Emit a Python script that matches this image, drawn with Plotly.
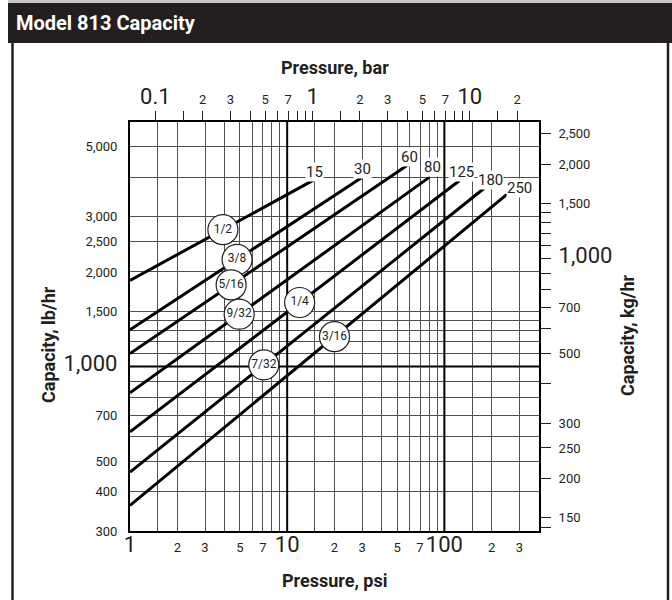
import numpy as np
import plotly.graph_objects as go

# ---------------- data ----------------
orifice_sizes = ["1/2", "3/8", "5/16", "9/32", "1/4", "7/32", "3/16"]
max_pressure_psi = [15, 30, 60, 80, 125, 180, 250]        # line end / label
start_pressure_psi = [1, 1, 1, 1, 1, 1, 1]
capacity_at_start = [1880, 1310, 1100, 825, 620, 462, 362]   # lb/hr
capacity_at_max = [3940, 4000, 4420, 4000, 3910, 3700, 3530]  # lb/hr
size_label_psi = [3.9, 4.8, 4.4, 4.95, 12, 7.1, 20]       # where the circled size sits

psi_grid = [1, 1.5, 2, 3, 4, 5, 6, 7, 8, 9, 10, 15, 20, 30, 40, 50, 60, 70, 80, 90,
            100, 150, 200, 300]
psi_text = ["1", "", "2", "3", "", "5", "", "7", "", "", "10", "", "2", "3", "", "5", "",
            "7", "", "", "100", "", "2", "3"]
psi_big = [1, 10, 100]

bar_ticks = [0.1, 0.15, 0.2, 0.3, 0.4, 0.5, 0.6, 0.7, 0.8, 0.9, 1, 1.5, 2, 3, 4, 5, 6, 7,
             8, 9, 10, 15, 20]
bar_text = ["0.1", "", "2", "3", "", "5", "", "7", "", "", "1", "", "2", "3", "", "5", "",
            "7", "", "", "10", "", "2"]
bar_big = [0.1, 1, 10]

lb_grid = [300, 400, 500, 600, 700, 800, 900, 1000, 1100, 1200, 1300, 1400, 1500, 2000,
           2500, 3000, 4000, 5000, 6000]
lb_text = ["300", "400", "500", "", "700", "", "", "1,000", "", "", "", "", "1,500",
           "2,000", "2,500", "3,000", "", "5,000", ""]
lb_big = [1000]

kg_ticks = [140, 150, 200, 250, 300, 400, 500, 600, 700, 800, 900, 1000, 1100, 1200,
            1300, 1400, 1500, 2000, 2500]
kg_text = ["", "150", "200", "250", "300", "", "500", "", "700", "", "", "1,000", "", "",
           "", "", "1,500", "2,000", "2,500"]
kg_big = [1000]

PSI_RANGE = [1, 400]
LB_RANGE = [300, 6000]
LB_PER_KG = 2.20462
PSI_PER_BAR = 14.5038

# ---------------- styling ----------------
FONT = "Roboto, Liberation Sans, sans-serif"
INK = "#231f20"
GRID = "#505050"
SMALL = 13
BIG = 22

def big(txt):
    return '<span style="font-size:%dpx">%s</span>' % (BIG, txt)

def labels(vals, texts, bigs):
    return [big(t) if v in bigs else t for v, t in zip(vals, texts)]

fig = go.Figure()

# emphasised decade lines
for v in [10, 100]:
    fig.add_trace(go.Scatter(x=[v, v], y=LB_RANGE, mode="lines",
                             line=dict(color="black", width=2), hoverinfo="skip"))
fig.add_trace(go.Scatter(x=PSI_RANGE, y=[1000, 1000], mode="lines",
                         line=dict(color="black", width=2), hoverinfo="skip"))

# capacity lines
for i in range(len(orifice_sizes)):
    fig.add_trace(go.Scatter(
        x=[start_pressure_psi[i], max_pressure_psi[i]],
        y=[capacity_at_start[i], capacity_at_max[i]],
        mode="lines", line=dict(color="black", width=3), hoverinfo="skip"))

# circled orifice sizes, located on their lines
def on_line(i, p):
    lp0, lp1 = np.log10(start_pressure_psi[i]), np.log10(max_pressure_psi[i])
    lc0, lc1 = np.log10(capacity_at_start[i]), np.log10(capacity_at_max[i])
    t = (np.log10(p) - lp0) / (lp1 - lp0)
    return 10 ** (lc0 + t * (lc1 - lc0))

circ_y = [on_line(i, p) for i, p in enumerate(size_label_psi)]
fig.add_trace(go.Scatter(
    x=size_label_psi, y=circ_y, mode="markers+text", text=orifice_sizes,
    textposition="middle center",
    textfont=dict(family=FONT, size=12, color=INK),
    marker=dict(size=30, color="white", line=dict(color=INK, width=1.2)),
    hoverinfo="skip"))

# invisible traces to activate secondary axes
fig.add_trace(go.Scatter(x=[PSI_RANGE[0] / PSI_PER_BAR, PSI_RANGE[1] / PSI_PER_BAR],
                         y=LB_RANGE, xaxis="x2", yaxis="y", mode="markers",
                         marker=dict(opacity=0), hoverinfo="skip"))
fig.add_trace(go.Scatter(x=PSI_RANGE, y=[LB_RANGE[0] / LB_PER_KG, LB_RANGE[1] / LB_PER_KG],
                         xaxis="x", yaxis="y2", mode="markers",
                         marker=dict(opacity=0), hoverinfo="skip"))

# pressure labels at the ends of the lines
end_shift = [(0, 7), (0, 8), (0, 7), (3, 10), (2, 8), (6, 8), (13, 6)]
for i in range(len(orifice_sizes)):
    fig.add_annotation(
        x=np.log10(max_pressure_psi[i]), y=np.log10(capacity_at_max[i]),
        xref="x", yref="y", text=str(max_pressure_psi[i]), showarrow=False,
        xshift=end_shift[i][0], yshift=end_shift[i][1], xanchor="center",
        yanchor="middle", bgcolor="white", borderpad=0,
        font=dict(family=FONT, size=15, color=INK))

tick_font = dict(family=FONT, size=SMALL, color=INK)

fig.update_layout(
    width=672, height=600,
    margin=dict(l=130, r=133, t=122, b=69, autoexpand=False),
    paper_bgcolor="white", plot_bgcolor="white",
    showlegend=False,
    xaxis=dict(type="log", range=[np.log10(PSI_RANGE[0]), np.log10(PSI_RANGE[1])],
               tickmode="array", tickvals=psi_grid,
               ticktext=labels(psi_grid, psi_text, psi_big), tickangle=0,
               showgrid=True, gridcolor=GRID, gridwidth=1.2, automargin=False,
               showline=True, linecolor="black", linewidth=2, mirror=True,
               ticks="", tickfont=tick_font, ticklabelstandoff=3, zeroline=False),
    xaxis2=dict(type="log", overlaying="x", side="top", anchor="y",
                range=[np.log10(PSI_RANGE[0] / PSI_PER_BAR),
                       np.log10(PSI_RANGE[1] / PSI_PER_BAR)],
                tickmode="array", tickvals=bar_ticks, tickangle=0, automargin=False,
                ticktext=labels(bar_ticks, bar_text, bar_big),
                showgrid=False, showline=False, ticks="outside", ticklen=10,
                tickwidth=1.2, tickcolor=INK, tickfont=tick_font, ticklabelstandoff=2),
    yaxis=dict(type="log", range=[np.log10(LB_RANGE[0]), np.log10(LB_RANGE[1])],
               tickmode="array", tickvals=lb_grid, automargin=False,
               ticktext=labels(lb_grid, lb_text, lb_big),
               showgrid=True, gridcolor=GRID, gridwidth=1.2,
               showline=True, linecolor="black", linewidth=2, mirror=True,
               ticks="", tickfont=tick_font, ticklabelstandoff=8, zeroline=False),
    yaxis2=dict(type="log", overlaying="y", side="right", anchor="x", automargin=False,
                range=[np.log10(LB_RANGE[0] / LB_PER_KG), np.log10(LB_RANGE[1] / LB_PER_KG)],
                tickmode="array", tickvals=kg_ticks,
                ticktext=labels(kg_ticks, kg_text, kg_big),
                showgrid=False, showline=False, ticks="outside", ticklen=11,
                tickwidth=1.2, tickcolor=INK, tickfont=tick_font, ticklabelstandoff=5),
)

# ---- frame and title bar (paper coordinates from pixel layout) ----
PW, PH, L, B = 409.0, 409.0, 130.0, 531.0
def px(x):
    return (x - L) / PW
def py(y):
    return (B - y) / PH

fig.add_shape(type="rect", xref="paper", yref="paper", x0=px(8), x1=px(672),
              y0=py(43), y1=py(3), fillcolor=INK, line=dict(width=0), layer="above")
fig.add_shape(type="rect", xref="paper", yref="paper", x0=px(8), x1=px(672),
              y0=py(3), y1=py(0), fillcolor="#c8c8c8", line=dict(width=0))
fig.add_shape(type="line", xref="paper", yref="paper", x0=px(12.5), x1=px(12.5),
              y0=py(43), y1=py(600), line=dict(color=INK, width=2.5))
fig.add_shape(type="line", xref="paper", yref="paper", x0=px(668), x1=px(668),
              y0=py(43), y1=py(600), line=dict(color=INK, width=2.5))

def label(text, x, y, size, color=INK, angle=0, xanchor="center"):
    fig.add_annotation(xref="paper", yref="paper", x=px(x), y=py(y), showarrow=False,
                       xanchor=xanchor, yanchor="middle", textangle=angle,
                       text="<b>%s</b>" % text,
                       font=dict(family=FONT, size=size, color=color))

label("Model 813 Capacity", 14, 23, 20, color="white", xanchor="left")
label("Pressure, bar", 335, 68, 18)
label("Pressure, psi", 335, 580, 18)
label("Capacity, lb/hr", 48, 345, 18, angle=-90)
label("Capacity, kg/hr", 627, 335, 18, angle=-90)

fig.write_html("out.html", config={"displayModeBar": False},
               post_script="document.body.style.margin='0';document.body.style.padding='0';")
